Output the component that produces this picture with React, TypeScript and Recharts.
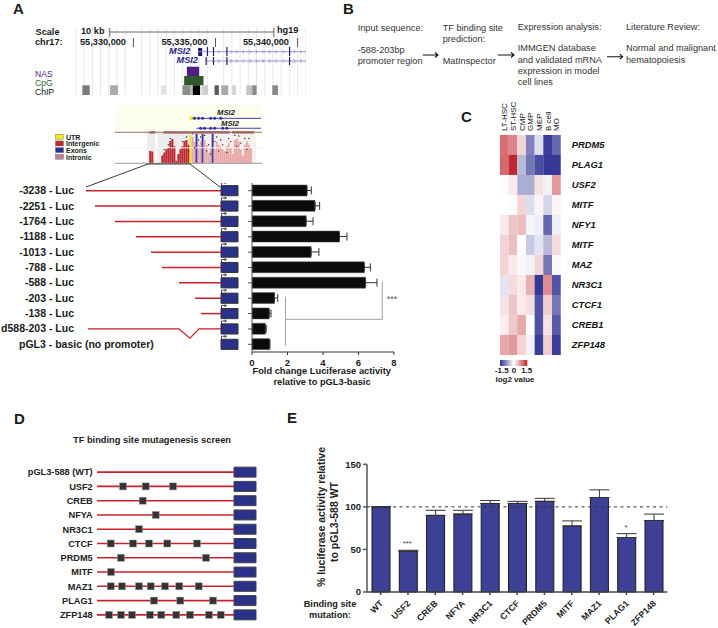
import React from "react"
import {
  Bar,
  BarChart,
  Cell,
  ComposedChart,
  ErrorBar,
  Line,
  ReferenceArea,
  ReferenceDot,
  ReferenceLine,
  Scatter,
  ScatterChart,
  XAxis,
  YAxis,
} from "recharts"

const FONT = '"Liberation Sans", Arial, sans-serif'
const LUC_BLUE = "#2a3188"
const LINE_RED = "#c8202c"

// panel A, genome browser (hg19 chr17)
const chrTicks = [55330000, 55335000, 55340000]
const browserGrid = [
  55326500, 55327000, 55327500, 55328000, 55328500, 55329000, 55329500, 55330500, 55331000, 55331500, 55332000,
  55332500, 55333000, 55333500, 55334000, 55334500, 55335500, 55336000, 55336500, 55337000, 55337500, 55338000,
  55338500, 55339000, 55339500, 55340000, 55340500,
]
const chipStarts = [55326892, 55328579, 55331669, 55332990, 55333458, 55333620, 55334067, 55334210, 55334941, 55335348, 55336019, 55336873, 55337238, 55338458]
const chipEnds = [55327341, 55329067, 55331994, 55333458, 55333620, 55334067, 55334210, 55334555, 55335206, 55335775, 55336244, 55337238, 55337503, 55338806]
const chipShades = ["#7a7a7a", "#ababab", "#e2e2e2", "#8d8d8d", "#b5b5b5", "#000000", "#e0e0e0", "#cfcfcf", "#5a5a5a", "#ababab", "#d2d2d2", "#c4c4c4", "#8a8a8a", "#8a8a8a"]
const geneExons1 = [55334513, 55334879, 55335695, 55339513]
const geneExons2 = [55334433, 55334879, 55335695, 55339513]
const geneChevrons = [55335200, 55335950, 55336300, 55336700, 55337100, 55337500, 55337900, 55338300, 55338700, 55339150, 55339800, 55340200]

// panel A, conservation inset
const conservation = [
  0, 0, 0, 0, 0, 0, 0, 0, 0, 0, 0, 0, 0, 0, 0, 0, 0, 40, 38, 0, 0, 0, 0, 25, 35, 45, 50, 72, 78, 55, 8, 30, 45, 55, 72, 75, 60,
  92, 85, 70, 95, 60, 70, 95, 75, 60, 35, 50, 95, 45, 70, 60, 55, 45, 40, 55, 65, 50, 30, 75, 80, 70, 45, 25, 60, 70, 60, 50,
  0, 0, 0, 0, 0,
]
const utrBins = [37]
const exonBins = [40, 43, 48]
const intergenicEnd = 37
const dotBins = [24, 26, 27, 28, 31, 33, 35, 36, 38, 39, 41, 42, 44, 45, 46, 47, 49, 50, 51, 52, 53, 55, 56, 57, 59, 60, 61, 62, 64, 65, 66]
const dotValues = [45, 60, 80, 55, 20, 70, 85, 40, 95, 50, 75, 85, 90, 40, 60, 30, 70, 85, 40, 75, 60, 35, 80, 70, 90, 55, 88, 65, 80, 45, 80]
const insetGene1 = [39, 41, 43, 47, 49, 52]
const insetGene2 = [42, 44, 47, 49, 53, 55]
const insetLegend = ["UTR", "Intergenic", "Exons", "Intronic"]
const insetLegendColors = ["#f2e81e", "#c0272d", "#2b2f8f", "#b87f97"]

// panel A, promoter constructs and their activity
const constructs = ["-3238 - Luc", "-2251 - Luc", "-1764 - Luc", "-1188 - Luc", "-1013 - Luc", "-788 - Luc", "-588 - Luc", "-203 - Luc", "-138 - Luc", "d588-203 - Luc", "pGL3 - basic (no promoter)"]
const constructStarts = [-135, -126, -106, -85, -70, -59, -42, -26, -20]
const deletionX = [-133, -42, -31, -22, 0]
const deletionY = [9, 9, 9.6, 9, 9]
const foldChange = [3.1, 3.55, 3.05, 4.93, 3.33, 6.33, 6.4, 1.27, 0.97, 0.75, 1.0]
const foldError = [0.24, 0.26, 0.39, 0.42, 0.44, 0.34, 0.64, 0.18, 0.1, 0.05, 0]

// panel C
const heatCols = ["LT-HSC", "ST-HSC", "CMP", "GMP", "MEP", "B cell", "MO"]
const heatRows = ["PRDM5", "PLAG1", "USF2", "MITF", "NFY1", "MITF", "MAZ", "NR3C1", "CTCF1", "CREB1", "ZFP148"]
const heatValues = [
  [1.0, 0.85, 0.3, -0.9, -0.25, -1.4, -1.1],
  [1.05, 1.5, -0.5, -1.0, -1.3, -1.45, -1.45],
  [-0.02, 0.15, -0.6, -0.6, 0.2, -0.1, 0.7],
  [0, -0.02, 0.3, -0.25, 0.08, -0.3, 0.07],
  [0.15, 0.4, 0.45, -0.07, -0.12, -1.1, -0.12],
  [0.3, 0.45, 0, -0.4, -0.2, -0.5, 0.25],
  [0.3, 0.15, -0.05, -0.1, 0.3, -1.0, 0.05],
  [-0.2, 0.25, 0.15, 0.55, -1.45, 0.8, -1.25],
  [0.2, 0.4, 0.15, 0.22, -1.25, 0.35, -1.0],
  [0.12, 0.38, 0.6, 0.02, -1.25, 0.2, -1.2],
  [0.6, 0.7, 0.3, -0.1, -1.4, 0.35, -1.4],
]

// panel D
const screenRows = ["pGL3-588 (WT)", "USF2", "CREB", "NFYA", "NR3C1", "CTCF", "PRDM5", "MITF", "MAZ1", "PLAG1", "ZFP148"]
const screenSites = [
  [],
  [26, 48.7, 76],
  [45.7],
  [58.7],
  [42],
  [13.7, 36, 52, 70.3, 100],
  [24, 109],
  [14],
  [13.7, 25, 42, 53.7, 68, 82.3, 101.7],
  [57, 83.3, 116],
  [12, 24, 35, 53, 64.3, 79.3, 93, 112, 123.7],
]

// panel E
const mutations = ["WT", "USF2", "CREB", "NFYA", "NR3C1", "CTCF", "PRDM5", "MITF", "MAZ1", "PLAG1", "ZFP148"]
const activity = [100, 48, 90, 91.5, 104, 104, 106.5, 77.5, 111, 64, 84]
const activityError = [0, 1, 6, 4.5, 3.5, 2.5, 3.5, 6, 9, 4.5, 7.5]

const foldData = constructs.map((name, i) => ({ name, value: foldChange[i], err: [0, foldError[i]] }))
const activityData = mutations.map((name, i) => ({ name, value: activity[i], err: [0, activityError[i]] }))
const insetData = conservation.map((value, bin) => ({ bin, value, dot: dotBins.includes(bin) ? dotValues[dotBins.indexOf(bin)] : null }))
const heatCells = heatValues.flatMap((row, r) => row.map((value, c) => ({ c, r, value })))
const rowTicks = heatRows.map((_, i) => i)
const siteCells = screenSites.flatMap((sites, row) => sites.map((x) => ({ x, row })))

function heatColor(v: number) {
  const lo = [46, 49, 146]
  const hi = [193, 39, 45]
  const end = v < 0 ? lo : hi
  const t = Math.min(1, Math.abs(v) / 1.5)
  const mix = end.map((e) => Math.round(255 + (e - 255) * t))
  return `rgb(${mix[0]},${mix[1]},${mix[2]})`
}

function insetColor(bin: number) {
  if (utrBins.includes(bin)) return "#f5e71c"
  if (exonBins.includes(bin)) return "#3a3aa8"
  return bin < intergenicEnd ? "#c0272d" : "#e9aaa7"
}

function Txt({ x, y, size = 9.2, weight = 700, color = "#1a1a1a", italic, center, children }: any) {
  return (
    <div
      style={{
        position: "absolute",
        left: x,
        top: y,
        transform: `translate(${center ? "-50%" : "0"}, -50%)`,
        fontFamily: FONT,
        fontSize: size,
        fontWeight: weight,
        fontStyle: italic ? "italic" : "normal",
        color,
        whiteSpace: "nowrap",
        lineHeight: 1,
      }}
    >
      {children}
    </div>
  )
}

function Place({ left, top, children }: any) {
  return <div style={{ position: "absolute", left, top }}>{children}</div>
}

function Square({ cx, cy }: any) {
  return <rect x={cx - 3.5} y={cy - 3.5} width={7} height={7} fill="#333" stroke="#999" strokeWidth={0.5} />
}

function HeatSquare({ cx, cy, payload }: any) {
  return <rect x={cx - 4.4} y={cy - 10.05} width={8.8} height={20.1} fill={heatColor(payload.value)} />
}

function Chevron({ cx, cy }: any) {
  return <path d={`M${cx - 1},${cy - 2}L${cx + 1},${cy}L${cx - 1},${cy + 2}`} fill="none" stroke="#8f8ac0" strokeWidth={0.7} />
}

function TssArrow({ cx, cy }: any) {
  return (
    <path
      d={`M${cx + 0.5},${cy - 5}V${cy - 8}H${cx + 5}M${cx + 3.5},${cy - 9}L${cx + 5.5},${cy - 8}L${cx + 3.5},${cy - 7}`}
      fill="none"
      stroke="#222"
      strokeWidth={0.8}
    />
  )
}

function ConstructTick({ x, y, payload }: any) {
  const label = constructs[payload.value]
  const last = payload.value === constructs.length - 1
  return (
    <text x={last ? 19 : x + 8} y={y + 3.5} textAnchor={last ? "start" : "end"} fontFamily={FONT} fontSize={10.5} fontWeight={700} fill="#1a1a1a">
      {label}
    </text>
  )
}

function ScreenTick({ x, y, payload }: any) {
  return (
    <text x={x + 1.7} y={y + 3.3} textAnchor="end" fontFamily={FONT} fontSize={9.2} fontWeight={700} fill="#222">
      {screenRows[payload.value]}
    </text>
  )
}

function HeatColTick({ x, y, payload }: any) {
  return (
    <text x={x + 3} y={y + 2} transform={`rotate(-90, ${x + 3}, ${y + 2})`} fontFamily={FONT} fontSize={8} fill="#111">
      {heatCols[payload.value]}
    </text>
  )
}

function HeatRowTick({ x, y, payload }: any) {
  return (
    <text x={x - 5} y={y + 3.3} fontFamily={FONT} fontSize={9.4} fontWeight={700} fontStyle="italic" fill="#111">
      {heatRows[payload.value]}
    </text>
  )
}

function MutationTick({ x, y, payload }: any) {
  return (
    <text x={x + 3} y={y + 7} transform={`rotate(-45, ${x + 3}, ${y + 7})`} textAnchor="end" fontFamily={FONT} fontSize={8.8} fontWeight={700} fill="#222">
      {payload.value}
    </text>
  )
}

// the guide lines sit in their own chart under the tracks, so the blocks cover them
function BrowserGrid() {
  return (
    <ScatterChart width={233} height={68} margin={{ top: 0, right: 0, bottom: 0, left: 0 }}>
      <XAxis type="number" dataKey="x" hide domain={[55326323, 55340512]} allowDataOverflow />
      <YAxis type="number" dataKey="y" hide domain={[0, 68]} reversed allowDataOverflow />
      {browserGrid.map((x) => (
        <ReferenceLine key={x} x={x} stroke="#e6e6f3" strokeWidth={1} />
      ))}
    </ScatterChart>
  )
}

function BrowserChart() {
  return (
    <ScatterChart width={233} height={68} margin={{ top: 0, right: 0, bottom: 0, left: 0 }}>
      <XAxis type="number" dataKey="x" hide domain={[55326323, 55340512]} allowDataOverflow />
      <YAxis type="number" dataKey="y" hide domain={[0, 68]} reversed allowDataOverflow />
      <ReferenceArea x1={55333945} x2={55334189} y1={21} y2={29} fill="#1f1a6b" fillOpacity={1} stroke="none" />
      <ReferenceArea x1={55333256} x2={55334006} y1={39.7} y2={49} fill="#4f1f84" fillOpacity={1} stroke="none" />
      <ReferenceArea x1={55333092} x2={55334269} y1={49} y2={58.3} fill="#2d5a2d" fillOpacity={1} stroke="none" />
      {chipStarts.map((x, i) => (
        <ReferenceArea key={x} x1={x} x2={chipEnds[i]} y1={58.3} y2={68} fill={chipShades[i]} fillOpacity={1} stroke="none" />
      ))}
      {chrTicks.map((x) => (
        <ReferenceLine key={x} stroke="#555" segment={[{ x, y: 11 }, { x, y: 20 }]} />
      ))}
      <ReferenceLine stroke="#666" segment={[{ x: 55328561, y: 5 }, { x: 55338561, y: 5 }]} />
      <ReferenceLine stroke="#666" segment={[{ x: 55328561, y: 1 }, { x: 55328561, y: 10 }]} />
      <ReferenceLine stroke="#666" segment={[{ x: 55338561, y: 1 }, { x: 55338561, y: 10 }]} />
      <ReferenceLine stroke="#9a94c8" segment={[{ x: 55333945, y: 24.7 }, { x: 55340512, y: 24.7 }]} />
      <ReferenceLine stroke="#9a94c8" segment={[{ x: 55334433, y: 34 }, { x: 55340512, y: 34 }]} />
      {geneExons1.map((x) => (
        <ReferenceLine key={x} stroke="#1f1a6b" strokeWidth={1.2} segment={[{ x, y: 20 }, { x, y: 29 }]} />
      ))}
      {geneExons2.map((x) => (
        <ReferenceLine key={x} stroke="#1f1a6b" strokeWidth={1.2} segment={[{ x, y: 30 }, { x, y: 38 }]} />
      ))}
      <Scatter data={geneChevrons.map((x) => ({ x, y: 24.7 }))} shape={Chevron} isAnimationActive={false} />
      <Scatter data={geneChevrons.map((x) => ({ x, y: 34 }))} shape={Chevron} isAnimationActive={false} />
    </ScatterChart>
  )
}

function ConservationInset() {
  return (
    <ComposedChart width={147} height={60} data={insetData} barCategoryGap={0} margin={{ top: 0, right: 0, bottom: 1.7, left: 0 }}>
      <XAxis dataKey="bin" hide />
      <YAxis hide domain={[0, 188]} allowDataOverflow />
      <ReferenceArea y1={100} y2={188} fill="#fdfdee" fillOpacity={1} stroke="none" />
      <ReferenceArea x1={16} x2={19} y1={0} y2={100} fill="#ececec" fillOpacity={1} stroke="none" />
      <ReferenceArea x1={21} x2={37} y1={0} y2={100} fill="#ececec" fillOpacity={1} stroke="none" />
      <ReferenceArea x1={38} x2={69} y1={0} y2={100} fill="#f4f0f0" fillOpacity={1} stroke="none" />
      <ReferenceLine y={50} stroke="#f3f3f3" />
      <Bar dataKey="value" isAnimationActive={false}>
        {insetData.map((d) => (
          <Cell key={d.bin} fill={insetColor(d.bin)} />
        ))}
      </Bar>
      <Line dataKey="dot" stroke="none" dot={{ r: 0.7, fill: "#222", stroke: "none" }} isAnimationActive={false} />
      <ReferenceLine y={100} stroke="#8a7468" />
      <ReferenceLine y={0} stroke="#999" />
      <ReferenceArea x1={17} x2={19} y1={96} y2={103} fill="#a8444a" fillOpacity={1} stroke="none" />
      <ReferenceArea x1={24} x2={30} y1={96} y2={103} fill="#a8444a" fillOpacity={1} stroke="none" />
      <ReferenceArea x1={31} x2={37} y1={96} y2={103} fill="#a8444a" fillOpacity={1} stroke="none" />
      <ReferenceArea x1={38} x2={56} y1={96} y2={103} fill="#a8444a" fillOpacity={1} stroke="none" />
      <ReferenceArea x1={58} x2={68} y1={96} y2={103} fill="#a8444a" fillOpacity={1} stroke="none" />
      <ReferenceArea x1={37} x2={38} y1={139} y2={151} fill="#f2e81e" fillOpacity={1} stroke="none" />
      <ReferenceLine stroke="#4040c0" segment={[{ x: 38, y: 145 }, { x: 72, y: 145 }]} />
      <ReferenceLine stroke="#4040c0" segment={[{ x: 40, y: 113 }, { x: 72, y: 113 }]} />
      {insetGene1.map((x) => (
        <ReferenceDot key={x} x={x} y={145} r={1.5} fill="#3030a8" stroke="none" />
      ))}
      {insetGene2.map((x) => (
        <ReferenceDot key={x} x={x} y={113} r={1.5} fill="#3030a8" stroke="none" />
      ))}
    </ComposedChart>
  )
}

function ConstructChart() {
  return (
    <ScatterChart width={240} height={169} margin={{ top: 0, right: 0, bottom: 0, left: 0 }}>
      <XAxis type="number" dataKey="x" hide domain={[-147, 19]} allowDataOverflow />
      <YAxis
        type="number"
        dataKey="y"
        width={74}
        domain={[-0.5, 10.5]}
        reversed
        ticks={constructs.map((_, i) => i)}
        interval={0}
        axisLine={false}
        tickLine={false}
        tick={ConstructTick}
      />
      {constructStarts.map((x, i) => (
        <Scatter
          key={i}
          data={[{ x, y: i }, { x: 0, y: i }]}
          line={{ stroke: LINE_RED, strokeWidth: 1.5 }}
          shape={() => null}
          isAnimationActive={false}
        />
      ))}
      <Scatter
        data={deletionX.map((x, i) => ({ x, y: deletionY[i] }))}
        line={{ stroke: LINE_RED, strokeWidth: 1.2 }}
        shape={() => null}
        isAnimationActive={false}
      />
      {constructs.map((_, i) => (
        <ReferenceArea key={i} x1={0} x2={17} y1={i - 0.33} y2={i + 0.33} fill={LUC_BLUE} fillOpacity={1} stroke="#333" />
      ))}
      <Scatter data={constructs.map((_, i) => ({ x: 0, y: i }))} shape={TssArrow} isAnimationActive={false} />
    </ScatterChart>
  )
}

function FoldChart() {
  return (
    <BarChart width={175} height={216} data={foldData} layout="vertical" barSize={11} margin={{ top: 0, right: 11, bottom: 0, left: 0 }}>
      <XAxis
        type="number"
        domain={[0, 8]}
        ticks={[0, 2, 4, 6, 8]}
        height={47}
        stroke="#333"
        tickSize={3}
        tickMargin={4}
        tick={{ fontFamily: FONT, fontSize: 9.5, fontWeight: 700, fill: "#222" }}
      />
      <YAxis type="category" dataKey="name" width={22} stroke="#555" tickSize={4} tickFormatter={() => ""} interval={0} />
      <Bar dataKey="value" fill="#0b0b0b" stroke="#555" strokeWidth={0.5} isAnimationActive={false}>
        <ErrorBar dataKey="err" direction="x" width={4} stroke="#333" strokeWidth={1} />
      </Bar>
    </BarChart>
  )
}

function HeatmapChart() {
  return (
    <ScatterChart width={170} height={255} margin={{ top: 0, right: 0, bottom: 0, left: 30 }}>
      <XAxis
        type="number"
        dataKey="c"
        orientation="top"
        height={35}
        domain={[-0.5, 6.5]}
        ticks={heatCols.map((_, i) => i)}
        interval={0}
        axisLine={false}
        tickLine={false}
        tickMargin={0}
        tick={HeatColTick}
      />
      <YAxis
        type="number"
        dataKey="r"
        orientation="right"
        width={79.3}
        domain={[-0.5, 10.5]}
        reversed
        ticks={rowTicks}
        interval={0}
        axisLine={false}
        tickLine={false}
        tickMargin={10}
        tick={HeatRowTick}
      />
      <Scatter data={heatCells} shape={HeatSquare} isAnimationActive={false} />
    </ScatterChart>
  )
}

function ScreenChart() {
  return (
    <ScatterChart width={260} height={157} margin={{ top: 0, right: 4, bottom: 0, left: 0 }}>
      <XAxis type="number" dataKey="x" hide domain={[0, 159]} allowDataOverflow />
      <YAxis
        type="number"
        dataKey="row"
        width={97}
        domain={[-0.5, 10.5]}
        reversed
        ticks={rowTicks}
        interval={0}
        axisLine={false}
        tickLine={false}
        tickMargin={0}
        tick={ScreenTick}
      />
      {screenRows.map((_, i) => (
        <ReferenceLine key={i} stroke={LINE_RED} strokeWidth={1.6} segment={[{ x: 0, y: i }, { x: 137, y: i }]} />
      ))}
      {screenRows.map((_, i) => (
        <ReferenceArea key={i} x1={137} x2={159} y1={i - 0.35} y2={i + 0.35} fill={LUC_BLUE} fillOpacity={1} stroke="#444" />
      ))}
      <Scatter data={siteCells} shape={Square} isAnimationActive={false} />
    </ScatterChart>
  )
}

function ActivityChart() {
  return (
    <BarChart width={340} height={168} data={activityData} barSize={18} margin={{ top: 4.3, right: 12.7, bottom: 0, left: 0 }}>
      <XAxis
        dataKey="name"
        height={36}
        stroke="#444"
        strokeWidth={1.5}
        tickSize={3}
        interval={0}
        tick={MutationTick}
      />
      <YAxis
        domain={[0, 150]}
        ticks={[0, 50, 100, 150]}
        width={27}
        stroke="#555"
        strokeWidth={1.5}
        tickSize={4}
        tick={{ fontFamily: FONT, fontSize: 9.5, fontWeight: 700, fill: "#222" }}
      />
      <Bar dataKey="value" fill="#3d4196" stroke="#1a1a1a" strokeWidth={1} isAnimationActive={false}>
        <ErrorBar dataKey="err" direction="y" width={10} stroke="#333" strokeWidth={1} />
      </Bar>
      <ReferenceLine y={100} stroke="#333" strokeDasharray="3 3.5" strokeWidth={1} />
    </BarChart>
  )
}

function Overlay() {
  const arrows = [
    [422.7, 55, 438],
    [498, 55, 514],
    [607, 56.7, 622.7],
  ]
  return (
    <svg width={718} height={628} style={{ position: "absolute", left: 0, top: 0, pointerEvents: "none" }}>
      <defs>
        <linearGradient id="heatbar">
          <stop offset="0" stopColor={heatColor(-1.5)} />
          <stop offset="0.5" stopColor="#ffffff" />
          <stop offset="1" stopColor={heatColor(1.5)} />
        </linearGradient>
      </defs>
      <path d="M86,187L148,164H190L220,187" fill="none" stroke="#222" strokeWidth={0.9} />
      <path d="M285.5,296.7V345.7M285.5,319.3H382.3V281.7" fill="none" stroke="#888" strokeWidth={0.8} />
      {arrows.map(([x1, y, x2], i) => (
        <path key={i} d={`M${x1},${y}H${x2}M${x2 - 3},${y - 2.5}L${x2},${y}L${x2 - 3},${y + 2.5}`} fill="none" stroke="#111" strokeWidth={1.1} />
      ))}
      <rect x={500} y={360} width={27.3} height={6} fill="url(#heatbar)" />
      {insetLegendColors.map((c, i) => (
        <rect key={c} x={55.5} y={134.3 + i * 6.67} width={8} height={5} fill={c} stroke="#666" strokeWidth={0.4} />
      ))}
    </svg>
  )
}

export default function App() {
  return (
    <div style={{ position: "absolute", left: 0, top: 0, width: 718, height: 628, background: "#fff", overflow: "hidden" }}>
      <Place left={73} top={27}>
        <BrowserGrid />
      </Place>
      <Place left={73} top={27}>
        <BrowserChart />
      </Place>
      <Place left={115} top={105}>
        <ConservationInset />
      </Place>
      <Place left={0} top={183}>
        <ConstructChart />
      </Place>
      <Place left={230} top={183}>
        <FoldChart />
      </Place>
      <Place left={470} top={100}>
        <HeatmapChart />
      </Place>
      <Place left={0} top={465}>
        <ScreenChart />
      </Place>
      <Place left={340} top={460}>
        <ActivityChart />
      </Place>
      <Overlay />

      <Txt x={13} y={8} size={15}>A</Txt>
      <Txt x={343} y={8} size={15}>B</Txt>
      <Txt x={461} y={116} size={15}>C</Txt>
      <Txt x={14} y={418} size={15}>D</Txt>
      <Txt x={287} y={417} size={15}>E</Txt>

      <Txt x={35.5} y={33} size={9.2}>Scale</Txt>
      <Txt x={35} y={43} size={9.2}>chr17:</Txt>
      <Txt x={81} y={32} size={9.2}>10 kb</Txt>
      <Txt x={277} y={31} size={9.2}>hg19</Txt>
      <Txt x={80} y={43} size={9.2}>55,330,000</Txt>
      <Txt x={161.5} y={43} size={9.2}>55,335,000</Txt>
      <Txt x={243} y={43} size={9.2}>55,340,000</Txt>
      <Txt x={169} y={52} size={9.2} italic color="#2d2580">MSI2</Txt>
      <Txt x={176.5} y={61} size={9.2} italic color="#2d2580">MSI2</Txt>
      <Txt x={35} y={74} size={8.6} weight={400} color="#4f1f84">NAS</Txt>
      <Txt x={35} y={83} size={8.6} weight={400} color="#2d6a2d">CpG</Txt>
      <Txt x={35} y={92} size={8.6} weight={400} color="#111">ChIP</Txt>
      <Txt x={217} y={113} size={7.7} italic>MSI2</Txt>
      <Txt x={221} y={124} size={7.7} italic>MSI2</Txt>
      {insetLegend.map((t, i) => (
        <Txt key={t} x={66} y={136.7 + i * 6.67} size={7}>{t}</Txt>
      ))}
      <Txt x={321.7} y={372} size={9.3} center>Fold change Luciferase activity</Txt>
      <Txt x={322} y={383} size={9.3} center>relative to pGL3-basic</Txt>
      <Txt x={392} y={299} size={9} weight={400} color="#555" center>***</Txt>

      <Txt x={357.7} y={28.7} weight={400} color="#333">Input sequence:</Txt>
      <Txt x={357.7} y={51} weight={400} color="#333">-588-203bp</Txt>
      <Txt x={357.7} y={62} weight={400} color="#333">promoter region</Txt>
      <Txt x={442.7} y={28.7} weight={400} color="#333">TF binding site</Txt>
      <Txt x={442.7} y={40} weight={400} color="#333">prediction:</Txt>
      <Txt x={442.7} y={62} weight={400} color="#333">MatInspector</Txt>
      <Txt x={517.7} y={28} weight={400} color="#333">Expression analysis:</Txt>
      <Txt x={517.7} y={49.3} weight={400} color="#333">IMMGEN database</Txt>
      <Txt x={517.7} y={61} weight={400} color="#333">and validated mRNA</Txt>
      <Txt x={517.7} y={72} weight={400} color="#333">expression in model</Txt>
      <Txt x={517.7} y={82.7} weight={400} color="#333">cell lines</Txt>
      <Txt x={626} y={28} weight={400} color="#333">Literature Review:</Txt>
      <Txt x={626} y={49.3} weight={400} color="#333">Normal and malignant</Txt>
      <Txt x={626} y={61} weight={400} color="#333">hematopoiesis</Txt>

      <Txt x={501.7} y={371} size={8} center>-1.5</Txt>
      <Txt x={514} y={371} size={8} center>0</Txt>
      <Txt x={526.7} y={371} size={8} center>1.5</Txt>
      <Txt x={515} y={380} size={8} center>log2 value</Txt>

      <Txt x={152} y={440.7} size={9.3} center color="#222">TF binding site mutagenesis screen</Txt>

      <Txt x={407.3} y={544} size={8} weight={400} color="#444" center>***</Txt>
      <Txt x={626} y={528} size={8} weight={400} color="#444" center>*</Txt>
      <Txt x={330} y={605} center color="#222">Binding site</Txt>
      <Txt x={330} y={616} center color="#222">mutation:</Txt>
      <div style={{ position: "absolute", left: 321, top: 517, transform: "translate(-50%, -50%) rotate(-90deg)", fontFamily: FONT, fontSize: 10.5, fontWeight: 700, color: "#222", whiteSpace: "nowrap", lineHeight: 1 }}>
        % luciferase activity relative
      </div>
      <div style={{ position: "absolute", left: 334, top: 522, transform: "translate(-50%, -50%) rotate(-90deg)", fontFamily: FONT, fontSize: 10.5, fontWeight: 700, color: "#222", whiteSpace: "nowrap", lineHeight: 1 }}>
        to pGL3-588 WT
      </div>
    </div>
  )
}
